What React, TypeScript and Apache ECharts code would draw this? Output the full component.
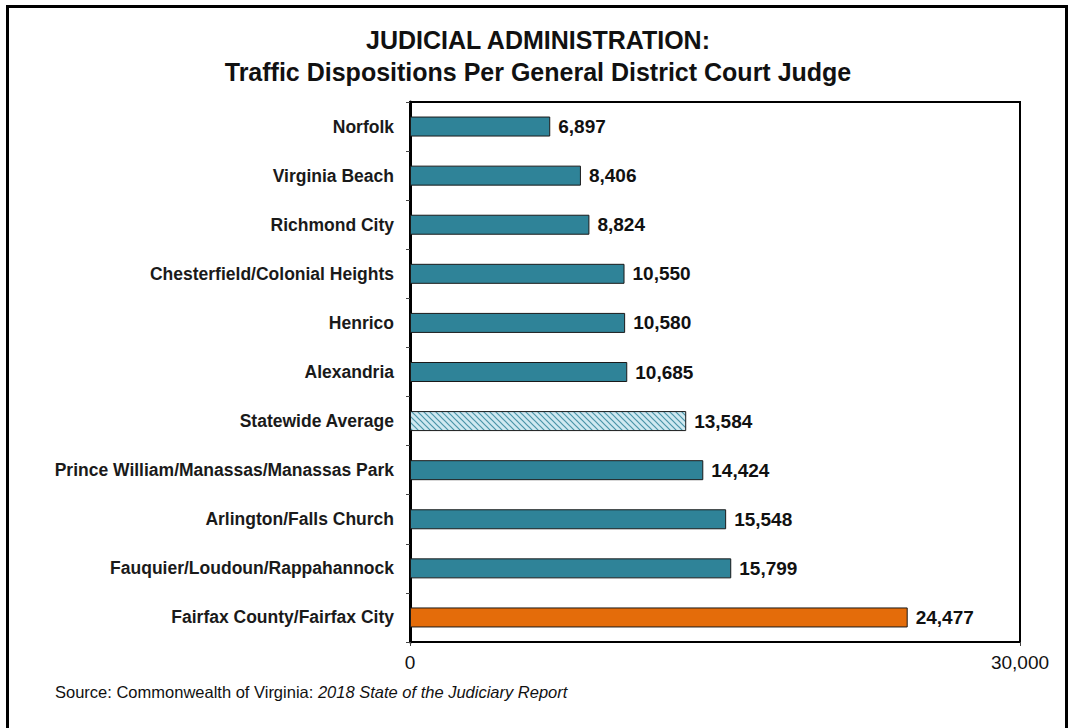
import React, { useEffect, useRef } from "react";
import * as echarts from "echarts";

const categories = [
  "Norfolk",
  "Virginia Beach",
  "Richmond City",
  "Chesterfield/Colonial Heights",
  "Henrico",
  "Alexandria",
  "Statewide Average",
  "Prince William/Manassas/Manassas Park",
  "Arlington/Falls Church",
  "Fauquier/Loudoun/Rappahannock",
  "Fairfax County/Fairfax City",
];
const values = [6897, 8406, 8824, 10550, 10580, 10685, 13584, 14424, 15548, 15799, 24477];
const xTicks = [0, 30000];

const TEAL = "#2f8398";
const ORANGE = "#e46c0a";

function makeHatch(): HTMLCanvasElement {
  const c = document.createElement("canvas");
  c.width = 6;
  c.height = 6;
  const ctx = c.getContext("2d")!;
  ctx.fillStyle = "#cfe9f1";
  ctx.fillRect(0, 0, 6, 6);
  ctx.strokeStyle = "#4a94a8";
  ctx.lineWidth = 1.2;
  ctx.beginPath();
  ctx.moveTo(-1, -1);
  ctx.lineTo(7, 7);
  ctx.moveTo(-1, 5);
  ctx.lineTo(1, 7);
  ctx.moveTo(5, -1);
  ctx.lineTo(7, 1);
  ctx.stroke();
  return c;
}

export default function App() {
  const ref = useRef<HTMLDivElement>(null);
  useEffect(() => {
    document.body.style.margin = "0";
    const chart = echarts.init(ref.current!, null, { renderer: "svg" });
    const hatch = makeHatch();
    const data = values.map((v, i) => {
      const name = categories[i];
      let color: any = TEAL;
      if (name === "Statewide Average") color = { image: hatch, repeat: "repeat" };
      if (name === "Fairfax County/Fairfax City") color = ORANGE;
      return { value: v, itemStyle: { color } };
    });
    chart.setOption({
      animation: false,
      backgroundColor: "#ffffff",
      grid: {
        left: 410,
        right: 50,
        top: 102,
        bottom: 86,
        show: true,
        borderColor: "#000",
        borderWidth: 2,
        backgroundColor: "transparent",
      },
      xAxis: {
        type: "value",
        min: 0,
        max: 30000,
        interval: 30000,
        axisLine: { show: true, lineStyle: { color: "#000", width: 2 } },
        axisTick: { show: true, length: 4, lineStyle: { color: "#444" } },
        splitLine: { show: false },
        axisLabel: {
          color: "#111",
          fontFamily: "Liberation Sans, Arial, sans-serif",
          fontSize: 19,
          margin: 11,
          formatter: (v: number) => (xTicks.includes(v) ? v.toLocaleString("en-US") : ""),
        },
      },
      yAxis: {
        type: "category",
        data: categories,
        inverse: true,
        axisLine: { show: true, lineStyle: { color: "#000", width: 3 } },
        axisTick: { show: true, length: 4, lineStyle: { color: "#444" } },
        axisLabel: {
          color: "#1a1a1a",
          fontFamily: "Liberation Sans, Arial, sans-serif",
          fontWeight: "bold",
          fontSize: 17.5,
          margin: 16,
        },
      },
      series: [
        {
          type: "bar",
          data,
          barWidth: 20,
          itemStyle: { borderColor: "#1a1a1a", borderWidth: 1 },
          label: {
            show: true,
            position: "right",
            distance: 8,
            color: "#111",
            fontFamily: "Liberation Sans, Arial, sans-serif",
            fontWeight: "bold",
            fontSize: 19,
            formatter: (p: any) => Number(p.value).toLocaleString("en-US"),
          },
        },
      ],
      graphic: [
        {
          type: "rect",
          shape: { x: 7.5, y: 6.5, width: 1059, height: 760 },
          style: { fill: "none", stroke: "#000", lineWidth: 3 },
          silent: true,
        },
        {
          type: "text",
          x: 538,
          y: 40,
          style: {
            text: "JUDICIAL ADMINISTRATION:",
            fill: "#111",
            font: "bold 25px 'Liberation Sans', Arial, sans-serif",
            align: "center",
            verticalAlign: "middle",
          },
        },
        {
          type: "text",
          x: 538,
          y: 72,
          style: {
            text: "Traffic Dispositions Per General District Court Judge",
            fill: "#111",
            font: "bold 25px 'Liberation Sans', Arial, sans-serif",
            align: "center",
            verticalAlign: "middle",
          },
        },
        {
          type: "text",
          x: 55,
          y: 692,
          style: {
            text: "{n|Source: Commonwealth of Virginia: }{i|2018 State of the Judiciary Report}",
            verticalAlign: "middle",
            rich: {
              n: { fontFamily: "Liberation Sans, Arial, sans-serif", fontSize: 16.5, fill: "#111" },
              i: { fontFamily: "Liberation Sans, Arial, sans-serif", fontSize: 16.5, fontStyle: "italic", fill: "#111" },
            },
          },
        },
      ],
    });
    return () => chart.dispose();
  }, []);
  return <div ref={ref} style={{ width: 1070, height: 728 }} />;
}
